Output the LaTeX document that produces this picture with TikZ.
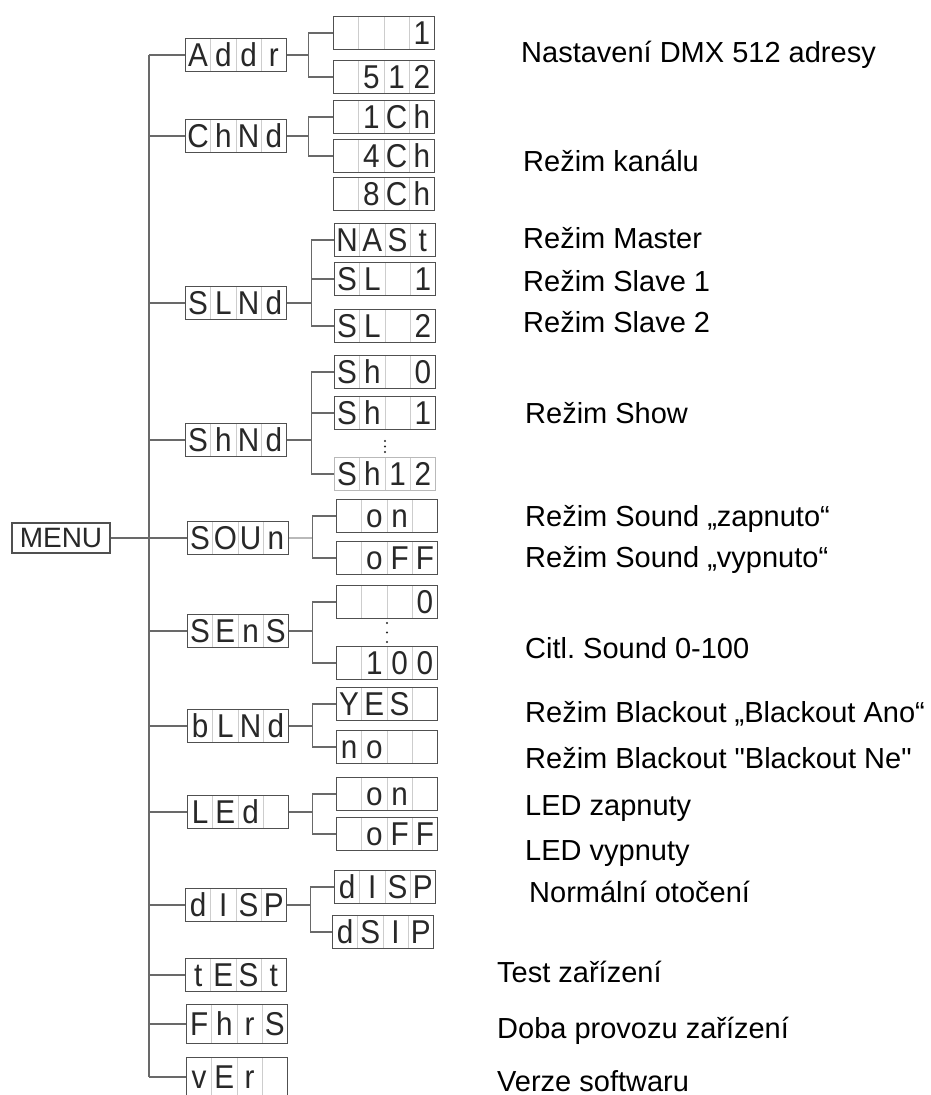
\documentclass[tikz,border=0pt]{standalone}
\usepackage{fontspec}
\setmainfont{Liberation Sans}
\newfontfamily\ledfont[FakeStretch=0.9]{Liberation Sans}
\frenchspacing
\definecolor{wirecol}{RGB}{105,105,105}
\definecolor{framecol}{RGB}{80,80,80}
\definecolor{cellcol}{RGB}{205,205,205}
\definecolor{ledcol}{RGB}{40,40,40}
\definecolor{palecol}{RGB}{185,185,185}
\newcommand{\ledcell}[1]{\makebox[25.25pt]{\rule{0pt}{23.5pt}#1}}
\newcommand{\led}[4]{\ledcell{#1}\ledcell{#2}\ledcell{#3}\ledcell{#4}}
\tikzset{wire/.style={draw=wirecol, line width=1.4pt},
  ledbox/.style={draw=framecol, line width=1.4pt, inner sep=0pt, minimum width=101pt, minimum height=33pt,
    text=ledcol, font=\ledfont\fontsize{33}{33}\selectfont,
    path picture={\foreach \k in {1,2,3} \draw[cellcol, line width=1pt]
      ([xshift=\k*25.25pt]path picture bounding box.south west) -- ([xshift=\k*25.25pt]path picture bounding box.north west);}},
  note/.style={anchor=base west, inner sep=0pt, font=\fontsize{29}{29}\selectfont}}

\begin{document}
\begin{tikzpicture}[x=1pt,y=-1pt]
   \useasboundingbox[fill=white] (0,0) rectangle (930,1095);
   \node[draw=framecol, line width=1.2pt, minimum width=98pt, minimum height=30pt, inner sep=0pt,
     text=ledcol, font=\fontsize{28}{28}\selectfont] (menu) at (61,538) {MENU};
   \node[ledbox] (addr) at (236,55) {\led{A}{d}{d}{r}};
   \node[ledbox] (chnd) at (236,136) {\led{C}{h}{N}{d}};
   \node[ledbox] (slnd) at (236,303) {\led{S}{L}{N}{d}};
   \node[ledbox] (shnd) at (236,440) {\led{S}{h}{N}{d}};
   \node[ledbox] (sound) at (238,538) {\led{S}{O}{U}{n}};
   \node[ledbox] (sens) at (238,631) {\led{S}{E}{n}{S}};
   \node[ledbox] (blnd) at (238,726) {\led{b}{L}{N}{d}};
   \node[ledbox] (led) at (238,812) {\led{L}{E}{d}{}};
   \node[ledbox] (disp) at (236,905) {\led{d}{I}{S}{P}};
   \node[ledbox] (test) at (236,975) {\led{t}{E}{S}{t}};
   \node[ledbox, minimum height=39pt] (fhrs) at (237,1024) {\led{F}{h}{r}{S}};
   \node[ledbox, minimum height=39pt] (ver) at (237,1077) {\led{v}{E}{r}{}};
   \node[ledbox] (adone) at (384,33) {\led{}{}{}{1}};
   \node[ledbox] (adfull) at (384,77) {\led{}{5}{1}{2}};
   \node[ledbox] (chone) at (384,117) {\led{}{1}{C}{h}};
   \node[ledbox] (chfour) at (384,156) {\led{}{4}{C}{h}};
   \node[ledbox] (cheight) at (384,194) {\led{}{8}{C}{h}};
   \node[ledbox] (master) at (385,240) {\led{N}{A}{S}{t}};
   \node[ledbox] (slaveone) at (385,279) {\led{S}{L}{}{1}};
   \node[ledbox] (slavetwo) at (385,326) {\led{S}{L}{}{2}};
   \node[ledbox] (shzero) at (385,372) {\led{S}{h}{}{0}};
   \node[ledbox] (shone) at (385,413) {\led{S}{h}{}{1}};
   \node[ledbox, draw=palecol] (shtwelve) at (385,474) {\led{S}{h}{1}{2}};
   \node[ledbox] (soundon) at (387,516) {\led{}{o}{n}{}};
   \node[ledbox] (soundoff) at (387,558) {\led{}{o}{F}{F}};
   \node[ledbox] (senszero) at (387,602) {\led{}{}{}{0}};
   \node[ledbox] (sensfull) at (387,663) {\led{}{1}{0}{0}};
   \node[ledbox] (blyes) at (387,704) {\led{Y}{E}{S}{}};
   \node[ledbox] (blno) at (387,747) {\led{n}{o}{}{}};
   \node[ledbox] (ledon) at (387,794) {\led{}{o}{n}{}};
   \node[ledbox] (ledoff) at (387,834) {\led{}{o}{F}{F}};
   \node[ledbox] (dispn) at (385,887) {\led{d}{I}{S}{P}};
   \node[ledbox] (dispr) at (383,932) {\led{d}{S}{I}{P}};
   \coordinate (bustop) at (149,55);
   \coordinate (busend) at (149,1077);
   \draw[wire] (bustop) -- (busend);
   \draw[wire] (menu.east) -- (sound.west);
   \foreach \n in {addr,chnd,slnd,shnd,sens,blnd,led,disp,test,fhrs,ver}
     \draw[wire] (bustop |- \n.west) -- (\n.west);
   \draw[wire] (addr.east) -- ++(21,0) coordinate (f1);
   \draw[wire] (chnd.east) -- ++(21,0) coordinate (f2);
   \draw[wire] (slnd.east) -- ++(24,0) coordinate (f3);
   \draw[wire] (shnd.east) -- ++(24,0) coordinate (f4);
   \draw[wire, draw=palecol] (sound.east) -- ++(23,0) coordinate (f5);
   \draw[wire] (sens.east) -- ++(23,0) coordinate (f6);
   \draw[wire] (blnd.east) -- ++(23,0) coordinate (f7);
   \draw[wire] (led.east) -- ++(23,0) coordinate (f8);
   \draw[wire] (disp.east) -- ++(23,0) coordinate (f9);
   \foreach \f/\c in {f1/adone,f1/adfull,f2/chone,f2/chfour,f3/master,f3/slaveone,f3/slavetwo,
     f4/shzero,f4/shone,f4/shtwelve,f5/soundon,f5/soundoff,f6/senszero,f6/sensfull,
     f7/blyes,f7/blno,f8/ledon,f8/ledoff,f9/dispn,f9/dispr}
     \draw[wire] (\f) |- (\c.west);
   \foreach \y in {441,446.5,452} \fill[ledcol] (385,\y) circle (1.2);
   \foreach \y in {623,632.5,642} \fill[ledcol] (387,\y) circle (1.2);
   \foreach \x/\y/\t [count=\i] in {521/62/Nastavení DMX 512 adresy, 523/171/Režim kanálu,
     523/248/Režim Master, 523/291/Režim Slave 1, 523/332/Režim Slave 2, 525/423/Režim Show,
     525/526/Režim Sound „zapnuto“, 525/567/Režim Sound „vypnuto“, 525/658/Citl. Sound 0-100,
     525/722/Režim Blackout „Blackout Ano“, 525/768/Režim Blackout \textquotedbl Blackout Ne\textquotedbl,
     525/815/LED zapnuty, 525/860/LED vypnuty, 529/902/Normální otočení,
     497/982/Test zařízení, 497/1038/Doba provozu zařízení, 497/1091/Verze softwaru}
     \node[note] (note\i) at (\x,\y) {\t};
\end{tikzpicture}
\end{document}
